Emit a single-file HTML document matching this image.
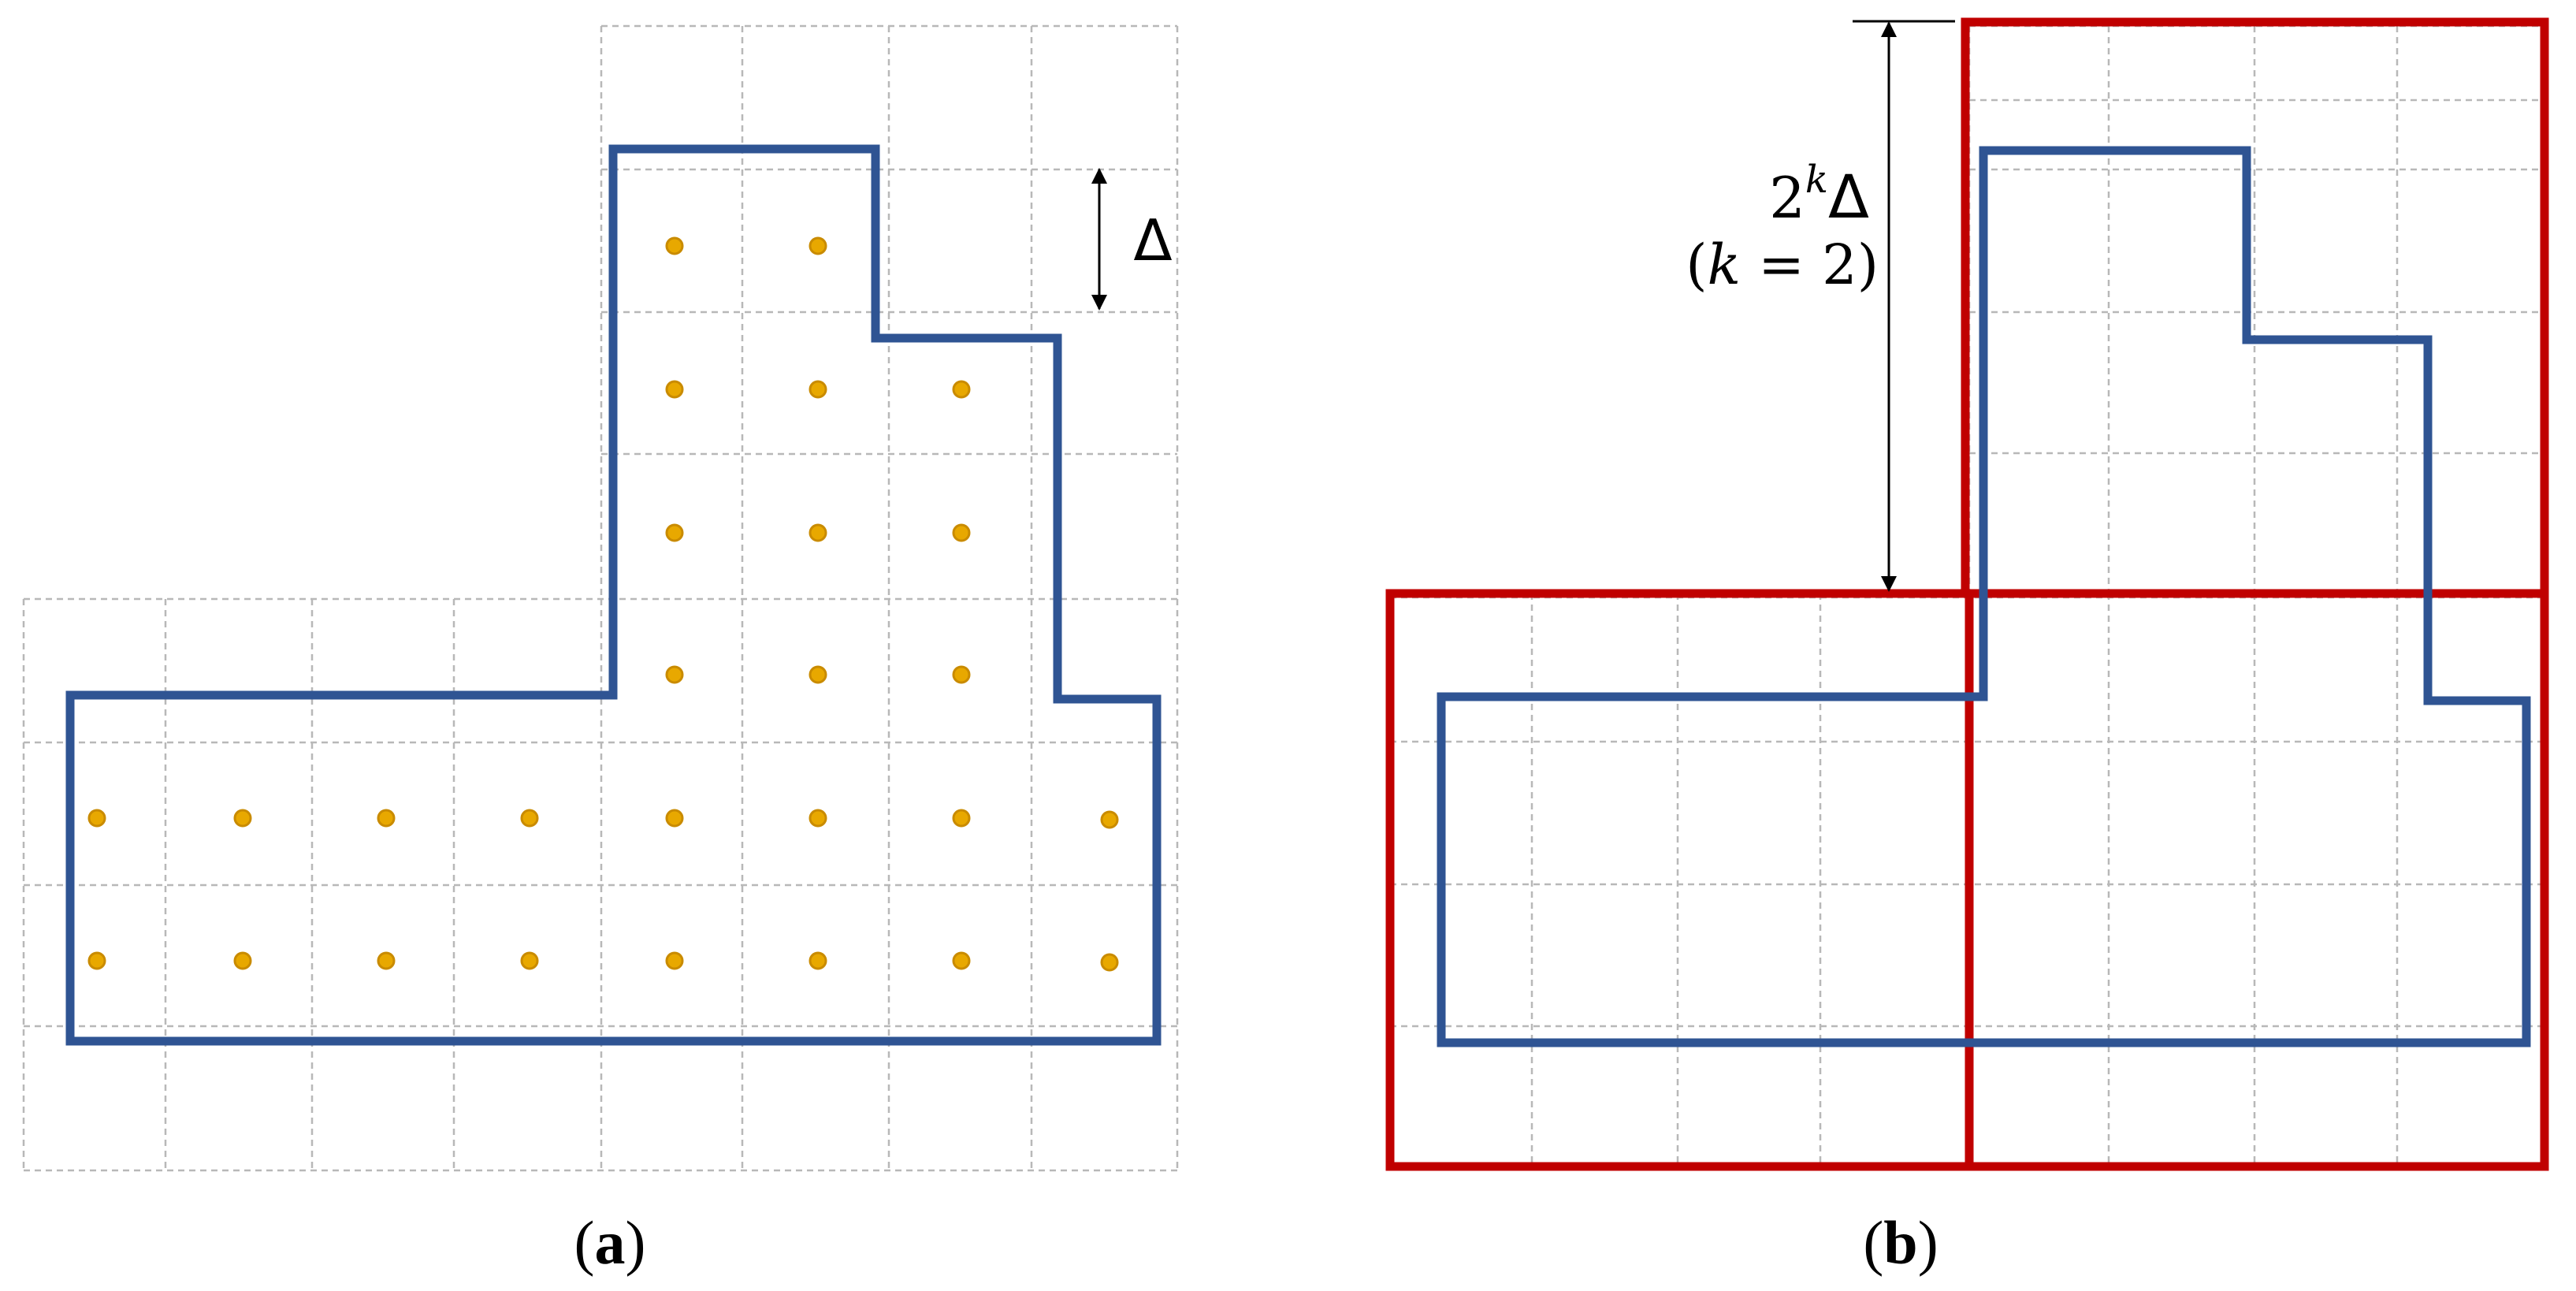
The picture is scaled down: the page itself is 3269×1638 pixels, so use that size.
<!DOCTYPE html>
<html><head><meta charset="utf-8"><style>html,body{margin:0;padding:0;background:#fff}svg{display:block}</style></head>
<body>
<svg width="3269" height="1638" viewBox="0 0 3269 1638" xmlns="http://www.w3.org/2000/svg">
<defs>
<marker id="ah2" viewBox="0 0 10 10" refX="9" refY="5" markerWidth="30" markerHeight="20" markerUnits="userSpaceOnUse" orient="auto-start-reverse"><path d="M0,0 L10,5 L0,10 z" fill="#000"/></marker>
</defs>
<g stroke="#b8b8b8" stroke-width="2.5" stroke-dasharray="8 6" fill="none">
<path d="M763,33V760 M942,33V760 M1128,33V760 M1309,33V760 M1494,33V760"/>
<path d="M763,33H1494 M763,215H1494 M763,396H1494 M763,576H1494"/>
<path d="M30,760V1485 M210,760V1485 M396,760V1485 M576,760V1485 M763,760V1485 M942,760V1485 M1128,760V1485 M1309,760V1485 M1494,760V1485"/>
<path d="M30,760H1494 M30,942H1494 M30,1123H1494 M30,1302H1494 M30,1485H1494"/>
<path d="M2499,33V753 M2676,33V753 M2861,33V753 M3042,33V753 M3225,33V753"/>
<path d="M2499,33H3225 M2499,127H3225 M2499,215H3225 M2499,396H3225 M2499,575H3225"/>
<path d="M1764,753V1480 M1944,753V1480 M2129,753V1480 M2310,753V1480 M2499,753V1480 M2676,753V1480 M2861,753V1480 M3042,753V1480 M3225,753V1480"/>
<path d="M1764,758H3225 M1764,941H3225 M1764,1122H3225 M1764,1302H3225 M1764,1480H3225"/>
</g>
<path d="M89,882H778V189H1111V429H1342V887H1468V1321H89Z" fill="none" stroke="#2f5493" stroke-width="11"/>
<g fill="#e8a800" stroke="#c98b00" stroke-width="3">
<circle cx="856" cy="312" r="10"/><circle cx="1038" cy="312" r="10"/>
<circle cx="856" cy="494" r="10"/><circle cx="1038" cy="494" r="10"/><circle cx="1220" cy="494" r="10"/>
<circle cx="856" cy="676" r="10"/><circle cx="1038" cy="676" r="10"/><circle cx="1220" cy="676" r="10"/>
<circle cx="856" cy="856" r="10"/><circle cx="1038" cy="856" r="10"/><circle cx="1220" cy="856" r="10"/>
<circle cx="123" cy="1038" r="10"/><circle cx="308" cy="1038" r="10"/><circle cx="490" cy="1038" r="10"/><circle cx="672" cy="1038" r="10"/><circle cx="856" cy="1038" r="10"/><circle cx="1038" cy="1038" r="10"/><circle cx="1220" cy="1038" r="10"/><circle cx="1408" cy="1040" r="10"/>
<circle cx="123" cy="1219" r="10"/><circle cx="308" cy="1219" r="10"/><circle cx="490" cy="1219" r="10"/><circle cx="672" cy="1219" r="10"/><circle cx="856" cy="1219" r="10"/><circle cx="1038" cy="1219" r="10"/><circle cx="1220" cy="1219" r="10"/><circle cx="1408" cy="1221" r="10"/>
</g>
<line x1="1395" y1="215" x2="1395" y2="392" stroke="#000" stroke-width="3" marker-start="url(#ah2)" marker-end="url(#ah2)"/>
<text x="1463" y="330" font-family="'DejaVu Sans', sans-serif" font-size="72" text-anchor="middle" fill="#000">Δ</text>
<text x="774" y="1603" font-family="'Liberation Serif', serif" font-size="78" text-anchor="middle" fill="#000">(<tspan font-weight="bold">a</tspan>)</text>
<g fill="none" stroke="#c00000" stroke-width="11">
<rect x="1764" y="753" width="735" height="727"/>
<rect x="2499" y="753" width="730" height="727"/>
<rect x="2494" y="28" width="735" height="725"/>
</g>
<path d="M1829,884H2517V191H2851V431H3081V889H3206V1323H1829Z" fill="none" stroke="#2f5493" stroke-width="11"/>
<line x1="2351" y1="27" x2="2481" y2="27" stroke="#000" stroke-width="3"/>
<line x1="2397" y1="29" x2="2397" y2="749" stroke="#000" stroke-width="3" marker-start="url(#ah2)" marker-end="url(#ah2)"/>
<text x="2372" y="276" font-family="'DejaVu Serif', serif" font-size="72" text-anchor="end" fill="#000">2<tspan dy="-32" font-size="48" font-style="italic">k</tspan><tspan dy="32" font-family="'DejaVu Sans', sans-serif" font-size="76">Δ</tspan></text>
<text x="2384" y="360" font-family="'DejaVu Serif', serif" font-size="70" text-anchor="end" fill="#000">(<tspan font-style="italic">k</tspan> = 2)</text>
<text x="2412" y="1603" font-family="'Liberation Serif', serif" font-size="78" text-anchor="middle" fill="#000">(<tspan font-weight="bold">b</tspan>)</text>
</svg>
</body></html>
